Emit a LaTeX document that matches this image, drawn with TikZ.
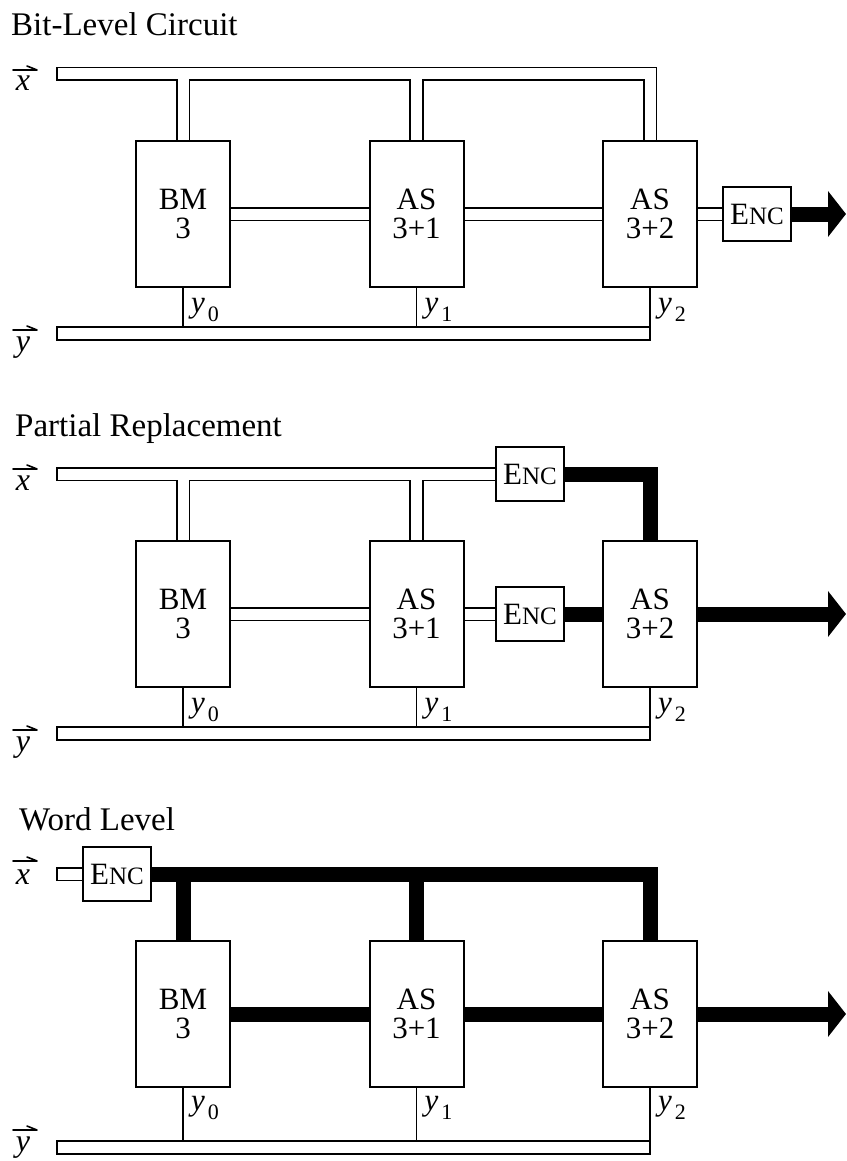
\documentclass[tikz,border=0pt]{standalone}
\usepackage{fontspec}
\setmainfont{Liberation Serif}
\usetikzlibrary{arrows.meta}
\pgfdeclarelayer{bg}
\pgfsetlayers{bg,main}
\newcommand{\fsz}[1]{\fontsize{#1}{#1}\selectfont}
\newcommand{\enctext}{E{\fsz{25}NC}}
\newcommand{\ylab}[1]{\textit{y}\kern3pt\raisebox{-9pt}{\fsz{22}#1}}
\begin{document}
\begin{tikzpicture}[x=1pt,y=-1pt,
  blk/.style={draw, line width=2pt, fill=white, minimum width=94pt, minimum height=146pt, inner sep=0pt, align=center, font=\fontsize{31}{29}\selectfont},
  encbox/.style={draw, line width=2pt, fill=white, minimum width=68pt, minimum height=54pt, inner sep=0pt, font=\fsz{31}},
  title/.style={anchor=base west, inner sep=0pt, font=\fsz{33}},
  vlab/.style={anchor=base, inner sep=0pt, font=\fsz{32}\itshape},
  harp/.style={line width=1.6pt, line cap=round, line join=round},
  ylabel/.style={anchor=base west, inner sep=0pt, font=\fsz{31}},
  tubeout/.style={line width=14.5pt, line cap=rect, black},
  tubein/.style={line width=11pt, line cap=rect, white},
  wordbus/.style={line width=15pt, line join=miter},
  wire/.style={line width=1.8pt},
  bigarrow/.style={line width=15pt, -{Triangle[length=18pt,width=45pt]}}
]
\useasboundingbox (0,0) rectangle (846,1161);

% ---------------- Panel A: Bit-Level Circuit ----------------
\node[title] (tA) at (11,36) {Bit-Level Circuit};
\node[vlab] (vxA) at (23,91) {x};
\draw[harp] (vxA.base) ++(-10,-21) -- ++(24,0) -- ++(-10,-4);
\node[vlab] (vyA) at (23,351) {y};
\draw[harp] (vyA.base) ++(-10,-21) -- ++(24,0) -- ++(-10,-4);
\node[blk] (bmA) at (183,214) {BM\\3};
\node[blk] (asaA) at (416.5,214) {AS\\3+1};
\node[blk] (asbA) at (650,214) {AS\\3+2};
\node[encbox] (encA) at (757,214) {\enctext};
\coordinate (xbA) at (63,74);
\coordinate (ybA) at (63,333.5);
\coordinate (ybendA) at (643.7,333.5);
\coordinate (ytopA) at (0,327);
\coordinate (ybotA) at (0,340.5);
\coordinate (tipA) at (846,214);
\node[ylabel] (y0A) at (191,312) {\ylab{0}};
\node[ylabel] (y1A) at (424.5,312) {\ylab{1}};
\node[ylabel] (y2A) at (658,312) {\ylab{2}};
\def\tubesA{(xbA) -- (xbA -| asbA.north) -- (asbA.north)
  (xbA -| bmA.north) -- (bmA.north) (xbA -| asaA.north) -- (asaA.north)
  (bmA.east) -- (asaA.west) (asaA.east) -- (asbA.west) (asbA.east) -- (encA.west)
  (ybA) -- (ybendA)}
\begin{pgfonlayer}{bg}
\draw[tubeout] \tubesA;
\draw[tubein] \tubesA;
\end{pgfonlayer}
\draw[wire] (bmA.south) -- (bmA.south |- ytopA);
\draw[wire] (asaA.south) -- (asaA.south |- ytopA);
\draw[wire] (asbA.south) -- (asbA.south |- ybotA);
\draw[bigarrow] (encA.east) -- (tipA);

% ---------------- Panel B: Partial Replacement ----------------
\node[title] (tB) at (15,436) {Partial Replacement};
\node[vlab] (vxB) at (23,490) {x};
\draw[harp] (vxB.base) ++(-10,-21) -- ++(24,0) -- ++(-10,-4);
\node[vlab] (vyB) at (23,751) {y};
\draw[harp] (vyB.base) ++(-10,-21) -- ++(24,0) -- ++(-10,-4);
\node[blk] (bmB) at (183,614) {BM\\3};
\node[blk] (asaB) at (416.5,614) {AS\\3+1};
\node[blk] (asbB) at (650,614) {AS\\3+2};
\node[encbox] (encxB) at (530,474) {\enctext};
\node[encbox] (encyB) at (530,614) {\enctext};
\coordinate (xbB) at (63,474);
\coordinate (ybB) at (63,733.5);
\coordinate (ybendB) at (643.7,733.5);
\coordinate (ytopB) at (0,727);
\coordinate (ybotB) at (0,740.5);
\coordinate (tipB) at (846,614);
\node[ylabel] (y0B) at (191,712) {\ylab{0}};
\node[ylabel] (y1B) at (424.5,712) {\ylab{1}};
\node[ylabel] (y2B) at (658,712) {\ylab{2}};
\def\tubesB{(xbB) -- (encxB.west)
  (xbB -| bmB.north) -- (bmB.north) (xbB -| asaB.north) -- (asaB.north)
  (bmB.east) -- (asaB.west) (asaB.east) -- (encyB.west)
  (ybB) -- (ybendB)}
\begin{pgfonlayer}{bg}
\draw[tubeout] \tubesB;
\draw[tubein] \tubesB;
\draw[wordbus] (encxB.east) -- (encxB.east -| asbB.north) -- (asbB.north);
\draw[wordbus] (encyB.east) -- (asbB.west);
\end{pgfonlayer}
\draw[wire] (bmB.south) -- (bmB.south |- ytopB);
\draw[wire] (asaB.south) -- (asaB.south |- ytopB);
\draw[wire] (asbB.south) -- (asbB.south |- ybotB);
\draw[bigarrow] (asbB.east) -- (tipB);

% ---------------- Panel C: Word Level ----------------
\node[title] (tC) at (19,830) {Word Level};
\node[vlab] (vxC) at (23,884) {x};
\draw[harp] (vxC.base) ++(-10,-23) -- ++(24,0) -- ++(-10,-4);
\node[vlab] (vyC) at (23,1151) {y};
\draw[harp] (vyC.base) ++(-10,-21) -- ++(24,0) -- ++(-10,-4);
\node[blk] (bmC) at (183,1014) {BM\\3};
\node[blk] (asaC) at (416.5,1014) {AS\\3+1};
\node[blk] (asbC) at (650,1014) {AS\\3+2};
\node[encbox] (encC) at (117,874) {\enctext};
\coordinate (xbC) at (63,874);
\coordinate (ybC) at (63,1147.5);
\coordinate (ybendC) at (643.7,1147.5);
\coordinate (ytopC) at (0,1141);
\coordinate (ybotC) at (0,1154.5);
\coordinate (tipC) at (846,1014);
\node[ylabel] (y0C) at (191,1110) {\ylab{0}};
\node[ylabel] (y1C) at (424.5,1110) {\ylab{1}};
\node[ylabel] (y2C) at (658,1110) {\ylab{2}};
\def\tubesC{(xbC) -- (encC.west) (ybC) -- (ybendC)}
\begin{pgfonlayer}{bg}
\draw[tubeout] \tubesC;
\draw[tubein] \tubesC;
\draw[wordbus] (encC.east) -- (encC.east -| asbC.north) -- (asbC.north);
\draw[wordbus] (encC.east -| bmC.north) -- (bmC.north);
\draw[wordbus] (encC.east -| asaC.north) -- (asaC.north);
\draw[wordbus] (bmC.east) -- (asaC.west);
\draw[wordbus] (asaC.east) -- (asbC.west);
\end{pgfonlayer}
\draw[wire] (bmC.south) -- (bmC.south |- ytopC);
\draw[wire] (asaC.south) -- (asaC.south |- ytopC);
\draw[wire] (asbC.south) -- (asbC.south |- ybotC);
\draw[bigarrow] (asbC.east) -- (tipC);
\end{tikzpicture}
\end{document}
